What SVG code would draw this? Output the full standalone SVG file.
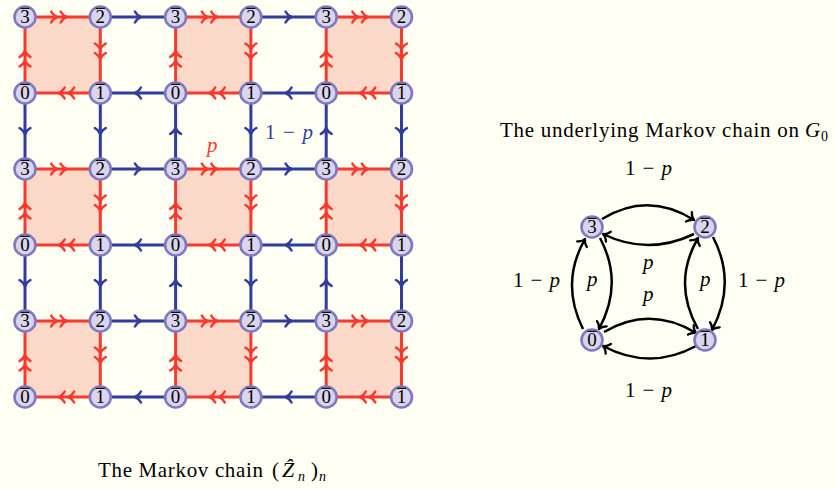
<svg xmlns="http://www.w3.org/2000/svg" width="837" height="489" viewBox="0 0 837 489">
<style>
.node circle{fill:#d9d5ec;stroke:#7f79c0;stroke-width:2.6}
.node text{font-family:"Liberation Serif",serif;font-size:19px;text-anchor:middle;fill:#000}
.node path{stroke:#000;stroke-width:1.1;fill:none}
.red{stroke:#f8392d;stroke-width:3;fill:none;marker-mid:url(#m2)}
.blue{stroke:#2f3d9c;stroke-width:3;fill:none;marker-mid:url(#m1)}
.arc{stroke:#000;stroke-width:2.5;fill:none;marker-end:url(#mk)}
.sq{fill:#fbd9c9}
.lbl{font-family:"Liberation Serif",serif;font-size:21px;fill:#000}
.it{font-style:italic}
</style>
<defs>
<marker id="m2" markerUnits="userSpaceOnUse" markerWidth="30" markerHeight="30" viewBox="-15 -15 30 30" refX="0" refY="0" orient="auto">
<path d="M-2,-5.5 C0,-2 2.5,-0.5 4,0 C2.5,0.5 0,2 -2,5.5 M-11.5,-5.5 C-9.5,-2 -7,-0.5 -5.5,0 C-7,0.5 -9.5,2 -11.5,5.5" fill="none" stroke="#f8392d" stroke-width="2.5" stroke-linecap="round" stroke-linejoin="round"/>
</marker>
<marker id="m1" markerUnits="userSpaceOnUse" markerWidth="30" markerHeight="30" viewBox="-15 -15 30 30" refX="0" refY="0" orient="auto">
<path d="M-3,-5.5 C-1,-2 1.5,-0.5 3,0 C1.5,0.5 -1,2 -3,5.5" fill="none" stroke="#2f3d9c" stroke-width="2.5" stroke-linecap="round" stroke-linejoin="round"/>
</marker>
<marker id="mk" markerUnits="userSpaceOnUse" markerWidth="30" markerHeight="30" viewBox="-15 -15 30 30" refX="0" refY="0" orient="auto">
<path d="M-6,-5.5 C-4,-2 -1.5,-0.5 0,0 C-1.5,0.5 -4,2 -6,5.5" fill="none" stroke="#000" stroke-width="2.3" stroke-linecap="round" stroke-linejoin="round"/>
</marker>
</defs>
<rect x="0" y="0" width="837" height="489" fill="#fffff3"/>
<g id="shading">
<rect class="sq" x="25" y="17" width="75.3" height="76"/>
<rect class="sq" x="175.6" y="17" width="75.3" height="76"/>
<rect class="sq" x="326.2" y="17" width="75.3" height="76"/>
<rect class="sq" x="25" y="169" width="75.3" height="76"/>
<rect class="sq" x="175.6" y="169" width="75.3" height="76"/>
<rect class="sq" x="326.2" y="169" width="75.3" height="76"/>
<rect class="sq" x="25" y="321" width="75.3" height="76"/>
<rect class="sq" x="175.6" y="321" width="75.3" height="76"/>
<rect class="sq" x="326.2" y="321" width="75.3" height="76"/>
</g>
<g id="connectors">
<path class="red" d="M25 17L62.65 17L100.3 17"/>
<path class="red" d="M100.3 17L100.3 55L100.3 93"/>
<path class="red" d="M100.3 93L62.65 93L25 93"/>
<path class="red" d="M25 93L25 55L25 17"/>
<path class="red" d="M175.6 17L213.25 17L250.9 17"/>
<path class="red" d="M250.9 17L250.9 55L250.9 93"/>
<path class="red" d="M250.9 93L213.25 93L175.6 93"/>
<path class="red" d="M175.6 93L175.6 55L175.6 17"/>
<path class="red" d="M326.2 17L363.85 17L401.5 17"/>
<path class="red" d="M401.5 17L401.5 55L401.5 93"/>
<path class="red" d="M401.5 93L363.85 93L326.2 93"/>
<path class="red" d="M326.2 93L326.2 55L326.2 17"/>
<path class="red" d="M25 169L62.65 169L100.3 169"/>
<path class="red" d="M100.3 169L100.3 207L100.3 245"/>
<path class="red" d="M100.3 245L62.65 245L25 245"/>
<path class="red" d="M25 245L25 207L25 169"/>
<path class="red" d="M175.6 169L213.25 169L250.9 169"/>
<path class="red" d="M250.9 169L250.9 207L250.9 245"/>
<path class="red" d="M250.9 245L213.25 245L175.6 245"/>
<path class="red" d="M175.6 245L175.6 207L175.6 169"/>
<path class="red" d="M326.2 169L363.85 169L401.5 169"/>
<path class="red" d="M401.5 169L401.5 207L401.5 245"/>
<path class="red" d="M401.5 245L363.85 245L326.2 245"/>
<path class="red" d="M326.2 245L326.2 207L326.2 169"/>
<path class="red" d="M25 321L62.65 321L100.3 321"/>
<path class="red" d="M100.3 321L100.3 359L100.3 397"/>
<path class="red" d="M100.3 397L62.65 397L25 397"/>
<path class="red" d="M25 397L25 359L25 321"/>
<path class="red" d="M175.6 321L213.25 321L250.9 321"/>
<path class="red" d="M250.9 321L250.9 359L250.9 397"/>
<path class="red" d="M250.9 397L213.25 397L175.6 397"/>
<path class="red" d="M175.6 397L175.6 359L175.6 321"/>
<path class="red" d="M326.2 321L363.85 321L401.5 321"/>
<path class="red" d="M401.5 321L401.5 359L401.5 397"/>
<path class="red" d="M401.5 397L363.85 397L326.2 397"/>
<path class="red" d="M326.2 397L326.2 359L326.2 321"/>
<path class="blue" d="M100.3 17L137.95 17L175.6 17"/>
<path class="blue" d="M250.9 17L288.55 17L326.2 17"/>
<path class="blue" d="M100.3 169L137.95 169L175.6 169"/>
<path class="blue" d="M250.9 169L288.55 169L326.2 169"/>
<path class="blue" d="M100.3 321L137.95 321L175.6 321"/>
<path class="blue" d="M250.9 321L288.55 321L326.2 321"/>
<path class="blue" d="M175.6 93L137.95 93L100.3 93"/>
<path class="blue" d="M326.2 93L288.55 93L250.9 93"/>
<path class="blue" d="M175.6 245L137.95 245L100.3 245"/>
<path class="blue" d="M326.2 245L288.55 245L250.9 245"/>
<path class="blue" d="M175.6 397L137.95 397L100.3 397"/>
<path class="blue" d="M326.2 397L288.55 397L250.9 397"/>
<path class="blue" d="M25 93L25 131L25 169"/>
<path class="blue" d="M100.3 93L100.3 131L100.3 169"/>
<path class="blue" d="M175.6 169L175.6 131L175.6 93"/>
<path class="blue" d="M250.9 93L250.9 131L250.9 169"/>
<path class="blue" d="M326.2 169L326.2 131L326.2 93"/>
<path class="blue" d="M401.5 93L401.5 131L401.5 169"/>
<path class="blue" d="M25 245L25 283L25 321"/>
<path class="blue" d="M100.3 245L100.3 283L100.3 321"/>
<path class="blue" d="M175.6 321L175.6 283L175.6 245"/>
<path class="blue" d="M250.9 245L250.9 283L250.9 321"/>
<path class="blue" d="M326.2 321L326.2 283L326.2 245"/>
<path class="blue" d="M401.5 245L401.5 283L401.5 321"/>
<path class="arc" d="M602 219Q648 191 694 220"/>
<path class="arc" d="M694 234Q648 256 603 234"/>
<path class="arc" d="M583 329Q560 283 585 239"/>
<path class="arc" d="M600 238Q624 283 599 329"/>
<path class="arc" d="M713 237Q737 283 712 330"/>
<path class="arc" d="M698 329Q672 283 698 238"/>
<path class="arc" d="M604 332Q650 305 696 333"/>
<path class="arc" d="M696 346Q650 371 603 346"/>
</g>
<g id="grid-nodes">
<g id="n00" class="node" transform="translate(25,17)"><circle r="10.5"/><text y="6.4">3</text><path d="M-4.5 -8.6H4.5"/></g>
<g id="n10" class="node" transform="translate(100.3,17)"><circle r="10.5"/><text y="6.4">2</text><path d="M-4.5 -8.6H4.5"/></g>
<g id="n20" class="node" transform="translate(175.6,17)"><circle r="10.5"/><text y="6.4">3</text><path d="M-4.5 -8.6H4.5"/></g>
<g id="n30" class="node" transform="translate(250.9,17)"><circle r="10.5"/><text y="6.4">2</text><path d="M-4.5 -8.6H4.5"/></g>
<g id="n40" class="node" transform="translate(326.2,17)"><circle r="10.5"/><text y="6.4">3</text><path d="M-4.5 -8.6H4.5"/></g>
<g id="n50" class="node" transform="translate(401.5,17)"><circle r="10.5"/><text y="6.4">2</text><path d="M-4.5 -8.6H4.5"/></g>
<g id="n01" class="node" transform="translate(25,93)"><circle r="10.5"/><text y="6.4">0</text><path d="M-4.5 -8.6H4.5"/></g>
<g id="n11" class="node" transform="translate(100.3,93)"><circle r="10.5"/><text y="6.4">1</text><path d="M-4.5 -8.6H4.5"/></g>
<g id="n21" class="node" transform="translate(175.6,93)"><circle r="10.5"/><text y="6.4">0</text><path d="M-4.5 -8.6H4.5"/></g>
<g id="n31" class="node" transform="translate(250.9,93)"><circle r="10.5"/><text y="6.4">1</text><path d="M-4.5 -8.6H4.5"/></g>
<g id="n41" class="node" transform="translate(326.2,93)"><circle r="10.5"/><text y="6.4">0</text><path d="M-4.5 -8.6H4.5"/></g>
<g id="n51" class="node" transform="translate(401.5,93)"><circle r="10.5"/><text y="6.4">1</text><path d="M-4.5 -8.6H4.5"/></g>
<g id="n02" class="node" transform="translate(25,169)"><circle r="10.5"/><text y="6.4">3</text><path d="M-4.5 -8.6H4.5"/></g>
<g id="n12" class="node" transform="translate(100.3,169)"><circle r="10.5"/><text y="6.4">2</text><path d="M-4.5 -8.6H4.5"/></g>
<g id="n22" class="node" transform="translate(175.6,169)"><circle r="10.5"/><text y="6.4">3</text><path d="M-4.5 -8.6H4.5"/></g>
<g id="n32" class="node" transform="translate(250.9,169)"><circle r="10.5"/><text y="6.4">2</text><path d="M-4.5 -8.6H4.5"/></g>
<g id="n42" class="node" transform="translate(326.2,169)"><circle r="10.5"/><text y="6.4">3</text><path d="M-4.5 -8.6H4.5"/></g>
<g id="n52" class="node" transform="translate(401.5,169)"><circle r="10.5"/><text y="6.4">2</text><path d="M-4.5 -8.6H4.5"/></g>
<g id="n03" class="node" transform="translate(25,245)"><circle r="10.5"/><text y="6.4">0</text><path d="M-4.5 -8.6H4.5"/></g>
<g id="n13" class="node" transform="translate(100.3,245)"><circle r="10.5"/><text y="6.4">1</text><path d="M-4.5 -8.6H4.5"/></g>
<g id="n23" class="node" transform="translate(175.6,245)"><circle r="10.5"/><text y="6.4">0</text><path d="M-4.5 -8.6H4.5"/></g>
<g id="n33" class="node" transform="translate(250.9,245)"><circle r="10.5"/><text y="6.4">1</text><path d="M-4.5 -8.6H4.5"/></g>
<g id="n43" class="node" transform="translate(326.2,245)"><circle r="10.5"/><text y="6.4">0</text><path d="M-4.5 -8.6H4.5"/></g>
<g id="n53" class="node" transform="translate(401.5,245)"><circle r="10.5"/><text y="6.4">1</text><path d="M-4.5 -8.6H4.5"/></g>
<g id="n04" class="node" transform="translate(25,321)"><circle r="10.5"/><text y="6.4">3</text><path d="M-4.5 -8.6H4.5"/></g>
<g id="n14" class="node" transform="translate(100.3,321)"><circle r="10.5"/><text y="6.4">2</text><path d="M-4.5 -8.6H4.5"/></g>
<g id="n24" class="node" transform="translate(175.6,321)"><circle r="10.5"/><text y="6.4">3</text><path d="M-4.5 -8.6H4.5"/></g>
<g id="n34" class="node" transform="translate(250.9,321)"><circle r="10.5"/><text y="6.4">2</text><path d="M-4.5 -8.6H4.5"/></g>
<g id="n44" class="node" transform="translate(326.2,321)"><circle r="10.5"/><text y="6.4">3</text><path d="M-4.5 -8.6H4.5"/></g>
<g id="n54" class="node" transform="translate(401.5,321)"><circle r="10.5"/><text y="6.4">2</text><path d="M-4.5 -8.6H4.5"/></g>
<g id="n05" class="node" transform="translate(25,397)"><circle r="10.5"/><text y="6.4">0</text><path d="M-4.5 -8.6H4.5"/></g>
<g id="n15" class="node" transform="translate(100.3,397)"><circle r="10.5"/><text y="6.4">1</text><path d="M-4.5 -8.6H4.5"/></g>
<g id="n25" class="node" transform="translate(175.6,397)"><circle r="10.5"/><text y="6.4">0</text><path d="M-4.5 -8.6H4.5"/></g>
<g id="n35" class="node" transform="translate(250.9,397)"><circle r="10.5"/><text y="6.4">1</text><path d="M-4.5 -8.6H4.5"/></g>
<g id="n45" class="node" transform="translate(326.2,397)"><circle r="10.5"/><text y="6.4">0</text><path d="M-4.5 -8.6H4.5"/></g>
<g id="n55" class="node" transform="translate(401.5,397)"><circle r="10.5"/><text y="6.4">1</text><path d="M-4.5 -8.6H4.5"/></g>
</g>
<g id="chain-nodes">
<g id="c3" class="node" transform="translate(592,227)"><circle r="10.5"/><text y="6.4">3</text><path d="M-4.5 -8.6H4.5"/></g>
<g id="c2" class="node" transform="translate(705,227)"><circle r="10.5"/><text y="6.4">2</text><path d="M-4.5 -8.6H4.5"/></g>
<g id="c0" class="node" transform="translate(592,340)"><circle r="10.5"/><text y="6.4">0</text><path d="M-4.5 -8.6H4.5"/></g>
<g id="c1" class="node" transform="translate(705,340)"><circle r="10.5"/><text y="6.4">1</text><path d="M-4.5 -8.6H4.5"/></g>
</g>
<g id="labels">
<text class="lbl it" x="207" y="152" style="fill:#f8392d">p</text>
<text class="lbl" x="265" y="139" textLength="48" lengthAdjust="spacing" style="fill:#2f3d9c">1 − <tspan class="it">p</tspan></text>
<text class="lbl" x="625" y="175" textLength="47" lengthAdjust="spacing">1 − <tspan class="it">p</tspan></text>
<text class="lbl" x="513" y="287" textLength="47" lengthAdjust="spacing">1 − <tspan class="it">p</tspan></text>
<text class="lbl" x="738" y="287" textLength="47" lengthAdjust="spacing">1 − <tspan class="it">p</tspan></text>
<text class="lbl" x="625" y="397" textLength="47" lengthAdjust="spacing">1 − <tspan class="it">p</tspan></text>
<text class="lbl it" x="587" y="286">p</text>
<text class="lbl it" x="700" y="286">p</text>
<text class="lbl it" x="643" y="269">p</text>
<text class="lbl it" x="643" y="301">p</text>
<text class="lbl" x="500" y="137" textLength="299" lengthAdjust="spacing">The underlying Markov chain on</text>
<text class="lbl it" x="805" y="137">G</text>
<text class="lbl" x="821" y="141" style="font-size:14px">0</text>
<text class="lbl" x="98" y="477" textLength="165" lengthAdjust="spacing">The Markov chain</text>
<text class="lbl" x="272" y="477">(<tspan class="it" x="282" style="font-size:22px">Ẑ</tspan><tspan class="it" x="298" y="481" style="font-size:14px">n</tspan><tspan x="311" y="477">)</tspan><tspan class="it" x="319" y="481" style="font-size:14px">n</tspan></text>
</g>
</svg>
